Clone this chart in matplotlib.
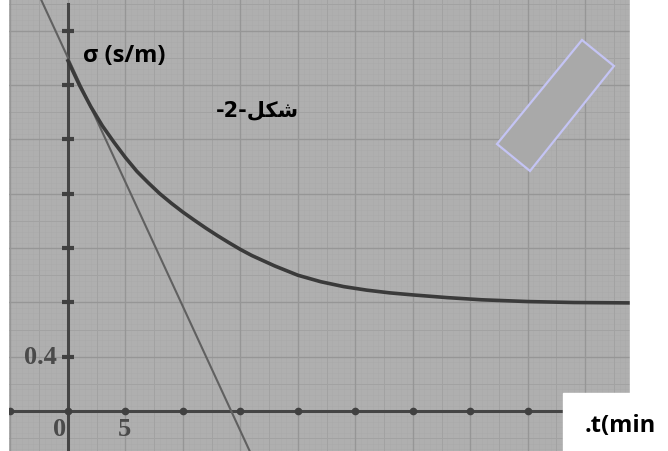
import numpy as np
import matplotlib.pyplot as plt
from matplotlib.patches import Rectangle, Polygon

# values
t_curve = [0, 1, 2, 3, 4, 5, 6, 7, 8, 9, 10, 11, 12, 13, 14, 15, 16, 18, 20, 22, 24, 26, 28, 30, 33, 36, 40, 44, 49]
sigma_curve = [2.58, 2.40, 2.24, 2.10, 1.98, 1.867, 1.765, 1.68, 1.60, 1.53, 1.465, 1.405, 1.347, 1.292, 1.24,
               1.19, 1.145, 1.068, 1.0, 0.952, 0.916, 0.89, 0.87, 0.855, 0.835, 0.819, 0.806, 0.799, 0.796]
t_tangent = [-2.5, 16]
sigma_tangent = [3.06, -0.33]
x_ticks = [-5, 0, 5, 10, 15, 20, 25, 30, 35, 40, 45]
y_ticks = [0.4, 0.8, 1.2, 1.6, 2.0, 2.4, 2.8]

fig = plt.figure(figsize=(6.68, 4.52), dpi=100)
ax = fig.add_axes([9/668, 0, 621/668, 1])
ax.set_xlim(-5.13, 48.9)
ax.set_ylim(-0.295, 3.035)
ax.axis('off')
ax.add_patch(Rectangle((0, 0), 1, 1, transform=ax.transAxes, color='#afafaf', zorder=0))

# graph paper
for x in np.arange(-5, 49, 0.5):
    ax.axvline(x, color='#aaaaaa', lw=0.4, zorder=1)
for y in np.arange(-0.28, 3.04, 0.04):
    ax.axhline(y, color='#aaaaaa', lw=0.4, zorder=1)
for x in np.arange(-2.5, 49, 5):
    ax.axvline(x, color='#a2a2a2', lw=0.7, zorder=1)
for y in np.arange(-0.2, 3.04, 0.4):
    ax.axhline(y, color='#a2a2a2', lw=0.7, zorder=1)
for x in x_ticks:
    ax.axvline(x, color='#969696', lw=1.0, zorder=1)
for y in y_ticks:
    ax.axhline(y, color='#969696', lw=1.0, zorder=1)

# axes
ax.axhline(0, color='#454545', lw=2.2, zorder=3)
ax.plot([0, 0], [-0.3, 3.0], color='#454545', lw=2.2, zorder=3)
ax.plot(x_ticks, [0] * len(x_ticks), 'o', color='#404040', ms=4.5, zorder=4)
ax.plot([0] * len(y_ticks), y_ticks, '_', color='#404040', ms=8, mew=3, zorder=4)

ax.plot(t_tangent, sigma_tangent, color='#606060', lw=1.5, zorder=5)
ax.plot(t_curve, sigma_curve, color='#3a3a3a', lw=2.6, zorder=6)

serif = dict(family='Liberation Serif', fontweight='bold', color='#4a4a4a', fontsize=19)
ax.text(-0.7, -0.13, '0', ha='center', va='center', zorder=2, **serif)
ax.text(4.95, -0.13, '5', ha='center', va='center', zorder=2, **serif)
ax.text(-2.4, 0.40, '0.4', ha='center', va='center', zorder=2, **serif)

fig.text(83/668, 1 - 56/452, 'σ (s/m)', family='Open Sans', fontweight='bold', fontsize=17,
         ha='left', va='center')
fig.text(257/668, 1 - 110/452, '-2-\ufede\ufedc\ufeb7', family='DejaVu Sans', fontweight='bold',
         fontsize=15, ha='center', va='center')

fig.add_artist(Rectangle((630/668, 0), 38/668, 1, transform=fig.transFigure, color='white', zorder=5))
fig.add_artist(Rectangle((563/668, 0), 105/668, 58/452, transform=fig.transFigure, color='white', zorder=5))
fig.text(620/668, 1 - 426/452, '.t(min', family='Open Sans', fontweight='bold', fontsize=17,
         ha='center', va='center', zorder=6)

corners = [(582, 41), (614, 67), (530, 172), (497, 145)]
fig.add_artist(Polygon([(x/668, 1 - y/452) for x, y in corners], closed=True, transform=fig.transFigure,
                       facecolor='#a9a9a9', edgecolor='#c4c4f4', lw=1.6, zorder=6))

fig.savefig('out.png', dpi=100)
